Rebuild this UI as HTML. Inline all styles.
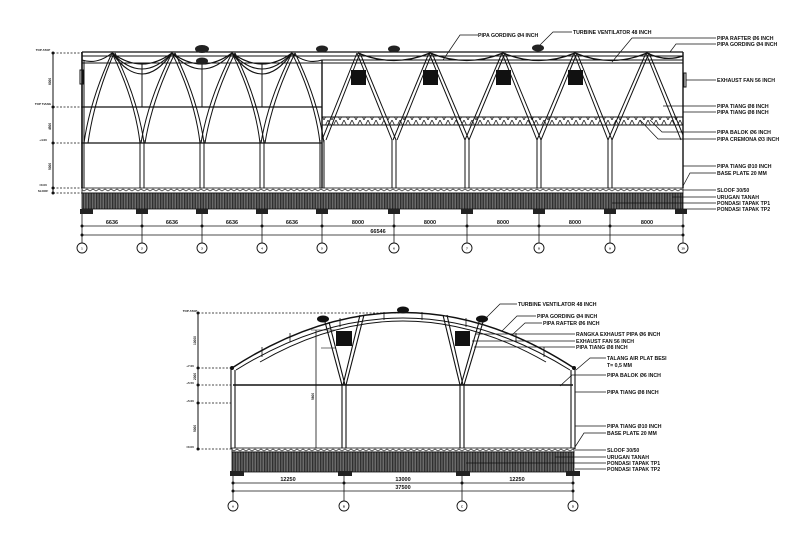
<!DOCTYPE html>
<html><head><meta charset="utf-8"><style>
html,body{margin:0;padding:0;background:#fff;}
svg{display:block;}
text{font-family:"Liberation Sans",sans-serif;font-weight:bold;fill:#111;}
</style></head><body>
<svg width="799" height="533" viewBox="0 0 799 533" xmlns="http://www.w3.org/2000/svg">
<defs>
<pattern id="h" width="1.6" height="10" patternUnits="userSpaceOnUse"><rect width="1.6" height="10" fill="#888"/><rect width="0.9" height="10" fill="#222"/></pattern>
<pattern id="z" width="6" height="4" patternUnits="userSpaceOnUse"><rect width="6" height="4" fill="#fff"/><path d="M0 3 L3 1 L6 3" stroke="#444" fill="none" stroke-width="0.8"/></pattern>
<pattern id="t" width="8" height="8" patternUnits="userSpaceOnUse"><path d="M0 0 L4 8 L8 0" stroke="#222" fill="none" stroke-width="0.8"/></pattern>
</defs>
<g stroke="#111" fill="none" stroke-width="1">
<line x1="53" y1="53" x2="53" y2="193"/>
<g stroke-dasharray="2,1.5" stroke-width="0.7">
<line x1="53" y1="53" x2="82" y2="53"/><line x1="53" y1="107" x2="82" y2="107"/>
<line x1="53" y1="143" x2="82" y2="143"/><line x1="53" y1="188" x2="82" y2="188"/><line x1="53" y1="193" x2="82" y2="193"/>
</g>
<g fill="#111" stroke="none"><circle cx="53" cy="53" r="1.5"/><circle cx="53" cy="107" r="1.5"/><circle cx="53" cy="143" r="1.5"/><circle cx="53" cy="188" r="1.5"/><circle cx="53" cy="193" r="1.5"/></g>
<line x1="82" y1="52" x2="683" y2="52" stroke-width="1.3"/>
<line x1="82" y1="56" x2="683" y2="56"/>
<line x1="82" y1="63" x2="322" y2="63"/>
<line x1="82" y1="107" x2="322" y2="107" stroke-width="1.2"/>
<line x1="82" y1="143" x2="322" y2="143" stroke-width="1.2"/>
<line x1="82" y1="52" x2="82" y2="188" stroke-width="1.6"/>
<line x1="84" y1="60" x2="84" y2="188"/>
<rect x="80" y="70" width="3" height="14"/>
<g stroke-width="1.1">
<path d="M112 53 Q142 75 172 53"/><path d="M112 53 Q142 85 172 53"/><path d="M112 53 Q142 95 172 53"/>
<path d="M172 53 Q202 75 232 53"/><path d="M172 53 Q202 85 232 53"/>
<path d="M232 53 Q262 75 292 53"/><path d="M232 53 Q262 85 292 53"/><path d="M232 53 Q262 95 292 53"/>
<path d="M292 53 Q307 65 322 60"/>
<path d="M82 60 Q97 65 112 53"/>
</g>
<line x1="142" y1="63" x2="142" y2="107"/><line x1="262" y1="63" x2="262" y2="107"/><line x1="202" y1="63" x2="202" y2="107"/>
<g stroke-width="1">
<path d="M112 53 Q90 100 84 143"/><path d="M114 53 Q94 100 88 143"/>
<path d="M112 53 Q135 100 140 143"/><path d="M115 53 Q138 100 144 143"/>
<path d="M172 53 Q148 100 141 143"/><path d="M175 53 Q152 100 145 143"/>
<path d="M172 53 Q195 100 200 143"/><path d="M175 53 Q198 100 204 143"/>
<path d="M232 53 Q208 100 201 143"/><path d="M235 53 Q212 100 205 143"/>
<path d="M232 53 Q255 100 260 143"/><path d="M235 53 Q258 100 264 143"/>
<path d="M292 53 Q268 100 261 143"/><path d="M295 53 Q272 100 265 143"/>
<path d="M292 53 Q315 100 320 143"/><path d="M295 53 Q318 100 324 143"/>
</g>
<rect x="322" y="60" width="361" height="3" stroke-width="1"/>
<line x1="322" y1="60" x2="322" y2="188" stroke-width="1.4"/>
<line x1="683" y1="52" x2="683" y2="188" stroke-width="1.4"/>
<rect x="684" y="73" width="2" height="14" fill="#fff"/>
<rect x="322" y="117" width="361" height="8" fill="url(#t)"/>
<path d="M358 53 Q394 68 430 53 Q467 68 503 53 Q539 68 575 53 Q611 68 647 53 Q665 62 683 56" stroke-width="1.3"/>
<g stroke-width="1">
<path d="M357 53 L322 140"/><path d="M360 53 L326 140"/>
<path d="M357 53 L392 140"/><path d="M360 53 L396 140"/>
<path d="M429 53 L393 140"/><path d="M432 53 L397 140"/>
<path d="M429 53 L465 140"/><path d="M432 53 L469 140"/>
<path d="M502 53 L465 140"/><path d="M505 53 L469 140"/>
<path d="M502 53 L537 140"/><path d="M505 53 L541 140"/>
<path d="M574 53 L537 140"/><path d="M577 53 L541 140"/>
<path d="M574 53 L608 140"/><path d="M577 53 L612 140"/>
<path d="M646 53 L608 140"/><path d="M649 53 L612 140"/>
<path d="M646 53 L681 140"/><path d="M649 53 L683 135"/>
</g>
<g fill="#111" stroke="none">
<rect x="351" y="70" width="15" height="15"/><rect x="423" y="70" width="15" height="15"/>
<rect x="496" y="70" width="15" height="15"/><rect x="568" y="70" width="15" height="15"/>
</g>
<g stroke-width="1">
<line x1="140" y1="140" x2="140" y2="188"/><line x1="144" y1="140" x2="144" y2="188"/>
<line x1="200" y1="140" x2="200" y2="188"/><line x1="204" y1="140" x2="204" y2="188"/>
<line x1="260" y1="140" x2="260" y2="188"/><line x1="264" y1="140" x2="264" y2="188"/>
<line x1="320" y1="140" x2="320" y2="188"/><line x1="324" y1="140" x2="324" y2="188"/>
<line x1="392" y1="140" x2="392" y2="188"/><line x1="396" y1="140" x2="396" y2="188"/>
<line x1="465" y1="140" x2="465" y2="188"/><line x1="469" y1="140" x2="469" y2="188"/>
<line x1="537" y1="140" x2="537" y2="188"/><line x1="541" y1="140" x2="541" y2="188"/>
<line x1="608" y1="140" x2="608" y2="188"/><line x1="612" y1="140" x2="612" y2="188"/>
</g>
<g fill="#222" stroke="none">
<ellipse cx="202" cy="49" rx="7" ry="4"/><ellipse cx="202" cy="61" rx="6" ry="3.5"/>
<ellipse cx="322" cy="49" rx="6" ry="3.5"/><ellipse cx="394" cy="49" rx="6" ry="3.5"/><ellipse cx="538" cy="48" rx="6" ry="3.5"/>
</g>
<rect x="82" y="188" width="601" height="5" fill="url(#z)" stroke-width="0.8"/>
<rect x="82" y="193" width="601" height="16" fill="url(#h)" stroke-width="0.8"/>
<g fill="#222" stroke="none">
<rect x="80" y="209" width="13" height="5"/><rect x="136" y="209" width="12" height="5"/><rect x="196" y="209" width="12" height="5"/>
<rect x="256" y="209" width="12" height="5"/><rect x="316" y="209" width="12" height="5"/><rect x="388" y="209" width="12" height="5"/>
<rect x="461" y="209" width="12" height="5"/><rect x="533" y="209" width="12" height="5"/><rect x="604" y="209" width="12" height="5"/><rect x="675" y="209" width="12" height="5"/>
</g>
<line x1="82" y1="226" x2="683" y2="226" stroke-width="0.8"/>
<line x1="82" y1="235" x2="683" y2="235" stroke-width="0.8"/>
<g stroke-width="0.8">
<line x1="82" y1="214" x2="82" y2="243"/><line x1="142" y1="214" x2="142" y2="243"/><line x1="202" y1="214" x2="202" y2="243"/>
<line x1="262" y1="214" x2="262" y2="243"/><line x1="322" y1="214" x2="322" y2="243"/><line x1="394" y1="214" x2="394" y2="243"/>
<line x1="467" y1="214" x2="467" y2="243"/><line x1="539" y1="214" x2="539" y2="243"/><line x1="610" y1="214" x2="610" y2="243"/><line x1="683" y1="214" x2="683" y2="243"/>
</g>
<g fill="#111" stroke="none">
<circle cx="82" cy="226" r="1.5"/><circle cx="142" cy="226" r="1.5"/><circle cx="202" cy="226" r="1.5"/><circle cx="262" cy="226" r="1.5"/><circle cx="322" cy="226" r="1.5"/><circle cx="394" cy="226" r="1.5"/><circle cx="467" cy="226" r="1.5"/><circle cx="539" cy="226" r="1.5"/><circle cx="610" cy="226" r="1.5"/><circle cx="683" cy="226" r="1.5"/>
<circle cx="82" cy="235" r="1.5"/><circle cx="683" cy="235" r="1.5"/>
</g>
<g stroke-width="0.9">
<circle cx="82" cy="248" r="5"/><circle cx="142" cy="248" r="5"/><circle cx="202" cy="248" r="5"/><circle cx="262" cy="248" r="5"/><circle cx="322" cy="248" r="5"/><circle cx="394" cy="248" r="5"/><circle cx="467" cy="248" r="5"/><circle cx="539" cy="248" r="5"/><circle cx="610" cy="248" r="5"/><circle cx="683" cy="248" r="5"/>
</g>
<g stroke-width="0.7">
<path d="M443 60 L460 35 L478 35"/><path d="M540 45 L553 32 L572 32"/>
<path d="M612 62 L632 38 L716 38"/><path d="M670 52 L676 44 L716 44"/>
<line x1="686" y1="80" x2="716" y2="80"/>
<line x1="663" y1="106" x2="716" y2="106"/><line x1="683" y1="112" x2="716" y2="112"/>
<path d="M650 120 L662 132 L716 132"/><path d="M640 120 L658 139 L716 139"/>
<line x1="683" y1="166" x2="716" y2="166"/><path d="M683 186 L690 173 L716 173"/>
<line x1="683" y1="190" x2="716" y2="190"/><line x1="672" y1="197" x2="716" y2="197"/>
<line x1="612" y1="203" x2="716" y2="203"/><line x1="683" y1="209" x2="716" y2="209"/>
</g>

<line x1="198" y1="313" x2="198" y2="449"/>
<g stroke-dasharray="2,1.5" stroke-width="0.7">
<line x1="198" y1="313" x2="400" y2="313"/><line x1="198" y1="368" x2="232" y2="368"/>
<line x1="198" y1="385" x2="232" y2="385"/><line x1="198" y1="403" x2="232" y2="403"/><line x1="198" y1="449" x2="232" y2="449"/>
</g>
<g fill="#111" stroke="none"><circle cx="198" cy="313" r="1.5"/><circle cx="198" cy="368" r="1.5"/><circle cx="198" cy="385" r="1.5"/><circle cx="198" cy="403" r="1.5"/><circle cx="198" cy="449" r="1.5"/></g>
<path d="M232 368 Q403 257 574 368" stroke-width="1.5"/>
<path d="M236 370 Q403 266 570 370" stroke-width="1"/>
<path d="M260 362 Q403 280 546 362" stroke-width="0.9"/>
<g stroke-width="0.8">
<line x1="262" y1="347" x2="262" y2="357"/><line x1="290" y1="333" x2="290" y2="342"/><line x1="340" y1="318" x2="340" y2="327"/>
<line x1="384" y1="312" x2="384" y2="320"/><line x1="422" y1="312" x2="422" y2="320"/><line x1="466" y1="318" x2="466" y2="327"/>
<line x1="516" y1="333" x2="516" y2="342"/><line x1="544" y1="347" x2="544" y2="357"/>
</g>
<line x1="233" y1="385" x2="573" y2="385" stroke-width="1.4"/>
<g stroke-width="1.1">
<line x1="231" y1="368" x2="231" y2="449"/><line x1="235" y1="370" x2="235" y2="449"/>
<line x1="571" y1="370" x2="571" y2="449"/><line x1="575" y1="368" x2="575" y2="449"/>
<line x1="342" y1="384" x2="342" y2="449"/><line x1="346" y1="384" x2="346" y2="449"/>
<line x1="460" y1="384" x2="460" y2="449"/><line x1="464" y1="384" x2="464" y2="449"/>
<path d="M342 385 L325 322"/><path d="M345 385 L329 322"/><path d="M343 385 L360 315"/><path d="M346 385 L364 315"/>
<path d="M460 385 L443 315"/><path d="M463 385 L447 315"/><path d="M461 385 L479 322"/><path d="M464 385 L483 322"/>
</g>
<g fill="#111" stroke="none">
<rect x="336" y="331" width="16" height="15"/><rect x="455" y="331" width="15" height="15"/>
<ellipse cx="323" cy="319" rx="6" ry="3.5"/><ellipse cx="403" cy="310" rx="6" ry="3.5"/><ellipse cx="482" cy="319" rx="6" ry="3.5"/>
<circle cx="232" cy="368" r="2"/><circle cx="574" cy="368" r="2"/>
</g>
<line x1="316" y1="330" x2="316" y2="449" stroke-width="0.8"/>
<line x1="311" y1="330" x2="336" y2="330" stroke-width="0.6"/>
<line x1="321" y1="348" x2="336" y2="348" stroke-width="0.6"/>
<rect x="232" y="448" width="342" height="4" fill="url(#z)" stroke-width="0.8"/>
<rect x="232" y="452" width="342" height="20" fill="url(#h)" stroke-width="0.8"/>
<g fill="#222" stroke="none">
<rect x="230" y="471" width="14" height="5"/><rect x="338" y="471" width="14" height="5"/><rect x="456" y="471" width="14" height="5"/><rect x="566" y="471" width="14" height="5"/>
</g>
<line x1="233" y1="483" x2="573" y2="483" stroke-width="0.8"/>
<line x1="233" y1="491" x2="573" y2="491" stroke-width="0.8"/>
<g stroke-width="0.8"><line x1="233" y1="476" x2="233" y2="501"/><line x1="344" y1="476" x2="344" y2="501"/><line x1="462" y1="476" x2="462" y2="501"/><line x1="573" y1="476" x2="573" y2="501"/></g>
<g fill="#111" stroke="none"><circle cx="233" cy="483" r="1.5"/><circle cx="344" cy="483" r="1.5"/><circle cx="462" cy="483" r="1.5"/><circle cx="573" cy="483" r="1.5"/><circle cx="233" cy="491" r="1.5"/><circle cx="573" cy="491" r="1.5"/></g>
<g stroke-width="0.9"><circle cx="233" cy="506" r="5"/><circle cx="344" cy="506" r="5"/><circle cx="462" cy="506" r="5"/><circle cx="573" cy="506" r="5"/></g>
<g stroke-width="0.7">
<path d="M486 318 L500 304 L517 304"/><path d="M502 331 L517 316 L536 316"/><path d="M512 335 L525 323 L542 323"/>
<line x1="476" y1="334" x2="575" y2="334"/><line x1="472" y1="341" x2="575" y2="341"/><line x1="474" y1="347" x2="575" y2="347"/>
<path d="M576 370 L590 358 L606 358"/><path d="M560 386 L572 375 L606 375"/>
<line x1="575" y1="392" x2="606" y2="392"/><line x1="575" y1="426" x2="606" y2="426"/><path d="M575 447 L584 433 L606 433"/>
<line x1="575" y1="450" x2="606" y2="450"/><line x1="555" y1="457" x2="606" y2="457"/>
<line x1="466" y1="463" x2="606" y2="463"/><line x1="575" y1="469" x2="606" y2="469"/>
</g>
</g>
<g font-size="5.2">
<text x="478" y="37">PIPA GORDING Ø4 INCH</text>
<text x="573" y="34">TURBINE VENTILATOR 48 INCH</text>
<text x="717" y="40">PIPA RAFTER Ø6 INCH</text>
<text x="717" y="46">PIPA GORDING Ø4 INCH</text>
<text x="717" y="82">EXHAUST FAN 56 INCH</text>
<text x="717" y="108">PIPA TIANG Ø8 INCH</text>
<text x="717" y="114">PIPA TIANG Ø8 INCH</text>
<text x="717" y="134">PIPA BALOK Ø6 INCH</text>
<text x="717" y="141">PIPA CREMONA Ø3 INCH</text>
<text x="717" y="168">PIPA TIANG Ø10 INCH</text>
<text x="717" y="175">BASE PLATE 20 MM</text>
<text x="717" y="192">SLOOF 30/50</text>
<text x="717" y="199">URUGAN TANAH</text>
<text x="717" y="205">PONDASI TAPAK TP1</text>
<text x="717" y="211">PONDASI TAPAK TP2</text>
<text x="518" y="306">TURBINE VENTILATOR 48 INCH</text>
<text x="537" y="318">PIPA GORDING Ø4 INCH</text>
<text x="543" y="325">PIPA RAFTER Ø6 INCH</text>
<text x="576" y="336">RANGKA EXHAUST PIPA Ø6 INCH</text>
<text x="576" y="343">EXHAUST FAN 56 INCH</text>
<text x="576" y="349">PIPA TIANG Ø8 INCH</text>
<text x="607" y="360">TALANG AIR PLAT BESI</text>
<text x="607" y="367">T= 0,5 MM</text>
<text x="607" y="377">PIPA BALOK Ø6 INCH</text>
<text x="607" y="394">PIPA TIANG Ø8 INCH</text>
<text x="607" y="428">PIPA TIANG Ø10 INCH</text>
<text x="607" y="435">BASE PLATE 20 MM</text>
<text x="607" y="452">SLOOF 30/50</text>
<text x="607" y="459">URUGAN TANAH</text>
<text x="607" y="465">PONDASI TAPAK TP1</text>
<text x="607" y="471">PONDASI TAPAK TP2</text>
</g>
<g font-size="5.5" text-anchor="middle">
<text x="112" y="224">6636</text><text x="172" y="224">6636</text><text x="232" y="224">6636</text><text x="292" y="224">6636</text>
<text x="358" y="224">8000</text><text x="430" y="224">8000</text><text x="503" y="224">8000</text><text x="575" y="224">8000</text><text x="647" y="224">8000</text>
<text x="378" y="233">66546</text>
<text x="288" y="481">12250</text><text x="403" y="481">13000</text><text x="517" y="481">12250</text>
<text x="403" y="489">37500</text>
</g>
<g font-size="3" text-anchor="middle">
<text x="82" y="249.5">1</text><text x="142" y="249.5">2</text><text x="202" y="249.5">3</text><text x="262" y="249.5">4</text><text x="322" y="249.5">5</text><text x="394" y="249.5">6</text><text x="467" y="249.5">7</text><text x="539" y="249.5">8</text><text x="610" y="249.5">9</text><text x="683" y="249.5">10</text>
<text x="233" y="507.5">A</text><text x="344" y="507.5">B</text><text x="462" y="507.5">C</text><text x="573" y="507.5">D</text>
<text x="43" y="51">TOP ATAP</text><text x="43" y="105">TOP TIANG</text><text x="43" y="141">+4.00</text><text x="43" y="186">±0.00</text><text x="43" y="192">SLOOF</text>
<text x="190" y="312">TOP ATAP</text><text x="190" y="367">+7.00</text><text x="190" y="384">+5.50</text><text x="190" y="402">+5.00</text><text x="190" y="448">±0.00</text>
</g>
<g font-size="3.2">
<text transform="translate(51,85) rotate(-90)">6000</text><text transform="translate(51,130) rotate(-90)">4500</text><text transform="translate(51,170) rotate(-90)">5000</text>
<text transform="translate(196,345) rotate(-90)">10000</text><text transform="translate(196,380) rotate(-90)">2000</text><text transform="translate(196,432) rotate(-90)">5000</text>
<text transform="translate(314,400) rotate(-90)">5800</text>
</g>
</svg>
</body></html>
